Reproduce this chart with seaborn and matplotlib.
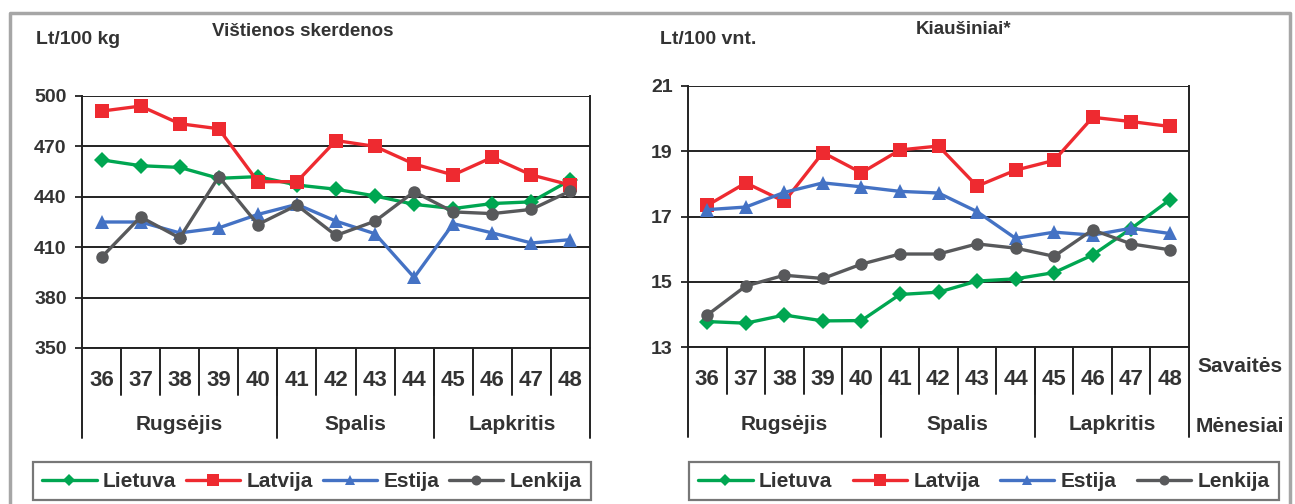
import numpy as np
import pandas as pd
import matplotlib
matplotlib.use('Agg')
import matplotlib.pyplot as plt
import seaborn as sns

weeks = [36, 37, 38, 39, 40, 41, 42, 43, 44, 45, 46, 47, 48]
countries = ['Lietuva', 'Latvija', 'Estija', 'Lenkija']
months = ['Rugsėjis', 'Spalis', 'Lapkritis']
month_weeks = [[36, 37, 38, 39, 40], [41, 42, 43, 44], [45, 46, 47, 48]]

# Vištienos skerdenos, Lt/100 kg
meat_lietuva = [462, 458.5, 457.5, 451, 452, 447, 444.5, 440.5, 435.5, 433, 436, 437, 450]
meat_latvija = [491, 494, 483.5, 480.5, 449, 449, 473.5, 470, 459.5, 453, 463.5, 453, 447]
meat_estija = [425, 425, 418.5, 421.5, 429.5, 435.5, 425.5, 418, 392, 424, 418.5, 412.5, 414.5]
meat_lenkija = [404, 428, 415.5, 452, 423.5, 435, 417, 425.5, 443, 431, 430, 432.5, 443.5]

# Kiaušiniai, Lt/100 vnt.
egg_lietuva = [13.78, 13.73, 13.98, 13.8, 13.81, 14.61, 14.68, 15.02, 15.09, 15.28, 15.82, 16.63, 17.51]
egg_latvija = [17.34, 18.03, 17.46, 18.96, 18.34, 19.04, 19.16, 17.93, 18.42, 18.72, 20.04, 19.91, 19.76]
egg_estija = [17.21, 17.29, 17.74, 18.03, 17.91, 17.77, 17.72, 17.15, 16.33, 16.52, 16.43, 16.64, 16.48]
egg_lenkija = [13.98, 14.87, 15.2, 15.1, 15.54, 15.85, 15.85, 16.16, 16.03, 15.78, 16.59, 16.16, 15.98]

colors = {'Lietuva': '#00a651', 'Latvija': '#ee2a30', 'Estija': '#4472c4', 'Lenkija': '#58595b'}
markers = {'Lietuva': 'D', 'Latvija': 's', 'Estija': '^', 'Lenkija': 'o'}
msize = {'Lietuva': 8, 'Latvija': 10, 'Estija': 9.5, 'Lenkija': 9}

sns.set_style('white')
plt.rcParams['font.family'] = ['Liberation Sans Narrow', 'Liberation Sans', 'DejaVu Sans']
plt.rcParams['font.weight'] = 'bold'
txt = '#333333'
W, H = 1295, 504

fig = plt.figure(figsize=(W / 100, H / 100), dpi=100)

# outer gray frame
fig.add_artist(plt.Line2D([10 / W, 10 / W, 1290 / W, 1290 / W], [0, 1 - 13 / H, 1 - 13 / H, 0],
                          color='#a6a6a6', lw=2.5, transform=fig.transFigure))


def panel(rect, series, ylim, yticks, title, title_xy, unit, unit_xy, leg_box, extra=False):
    ax = fig.add_axes(rect)
    for name, vals in zip(countries, series):
        df = pd.DataFrame({'week': weeks, 'value': vals})
        sns.lineplot(data=df, x='week', y='value', ax=ax, color=colors[name], marker=markers[name],
                     markersize=msize[name], markeredgewidth=0, linewidth=2.4, label=name)
    ax.set_xlim(weeks[0] - 0.5, weeks[-1] + 0.5)
    ax.set_ylim(*ylim)
    ax.set_yticks(yticks)
    ax.set_yticklabels([str(v) for v in yticks], fontsize=14, color=txt)
    ax.set_xticks(weeks)
    ax.set_xticklabels([str(w) for w in weeks], fontsize=16, color=txt)
    ax.tick_params(axis='x', length=0, pad=16)
    ax.tick_params(axis='y', length=5, width=1.3, color='#222222', pad=6, left=True)
    ax.grid(axis='y', color='#222222', lw=1.4)
    ax.set_axisbelow(True)
    for s in ['left', 'right', 'bottom']:
        ax.spines[s].set_visible(True)
        ax.spines[s].set_color('#222222')
        ax.spines[s].set_linewidth(1.4)
    ax.spines['top'].set_visible(False)
    ax.set_xlabel('')
    ax.set_ylabel('')

    # week / month table under the axis
    h_px = rect[3] * H
    wk_depth = -47 / h_px
    mo_depth = -90 / h_px
    tr = ax.get_xaxis_transform()
    for w in weeks[:-1]:
        ax.plot([w + 0.5, w + 0.5], [0, wk_depth], transform=tr, color='#222222', lw=1.4, clip_on=False)
    bounds = [month_weeks[0][0] - 0.5] + [m[-1] + 0.5 for m in month_weeks]
    for b in bounds:
        ax.plot([b, b], [0, mo_depth], transform=tr, color='#222222', lw=1.4, clip_on=False)
    for m, mw in zip(months, month_weeks):
        ax.text(np.mean(mw), -77 / h_px, m, transform=tr, ha='center', va='center',
                fontsize=15, color=txt)

    fig.text(title_xy[0] / W, 1 - title_xy[1] / H, title, ha='center', va='center', fontsize=13.5, color=txt)
    fig.text(unit_xy[0] / W, 1 - unit_xy[1] / H, unit, ha='left', va='center', fontsize=14, color=txt)
    if extra:
        fig.text(1240 / W, 1 - 367 / H, 'Savaitės', ha='center', va='center', fontsize=15, color=txt)
        fig.text(1240 / W, 1 - 426 / H, 'Mėnesiai', ha='center', va='center', fontsize=15, color=txt)

    x0, x1, y0 = leg_box
    leg = ax.legend(loc='upper left', bbox_to_anchor=(x0 / W, 1 - y0 / H, (x1 - x0) / W, 0.001),
                    bbox_transform=fig.transFigure, mode='expand', ncol=4, fontsize=15,
                    frameon=True, fancybox=False, borderaxespad=0, handlelength=2.6,
                    handletextpad=0.3, borderpad=0.45, markerscale=0.8)
    leg.get_frame().set_edgecolor('#555555')
    leg.get_frame().set_linewidth(1.6)
    for t in leg.get_texts():
        t.set_color(txt)
    return ax


panel([82 / W, 1 - 348 / H, 508 / W, 252 / H],
      [meat_lietuva, meat_latvija, meat_estija, meat_lenkija],
      (350, 500), [350, 380, 410, 440, 470, 500],
      'Vištienos skerdenos', (303, 32), 'Lt/100 kg', (36, 40), (33, 591, 463))

panel([688 / W, 1 - 347 / H, 501 / W, 261 / H],
      [egg_lietuva, egg_latvija, egg_estija, egg_lenkija],
      (13, 21), [13, 15, 17, 19, 21],
      'Kiaušiniai*', (964, 30), 'Lt/100 vnt.', (660, 40), (689, 1279, 463), extra=True)

fig.savefig('out.png', dpi=100)
